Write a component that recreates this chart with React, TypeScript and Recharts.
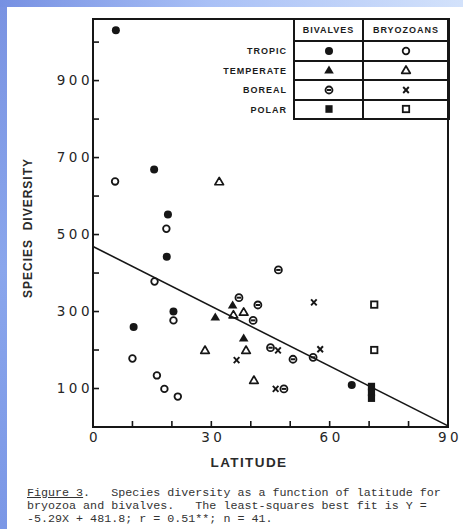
import React from 'react'
import { ScatterChart, Scatter, XAxis, YAxis, ReferenceLine, ReferenceArea } from 'recharts'

type Pt = { lat: number; div: number }
type Kind = 'fillCircle' | 'openCircle' | 'fillTri' | 'openTri' | 'boreal' | 'cross' | 'fillSquare' | 'openSquare'

// values (latitude, species diversity)
const tropicBivalves: Pt[] = [
  { lat: 5.8, div: 1031 }, { lat: 15.5, div: 669 }, { lat: 19, div: 552 }, { lat: 18.7, div: 442 },
  { lat: 20.4, div: 300 }, { lat: 10.3, div: 260 }, { lat: 65.6, div: 109 },
]
const tropicBryozoans: Pt[] = [
  { lat: 5.6, div: 638 }, { lat: 18.6, div: 515 }, { lat: 15.6, div: 378 }, { lat: 20.4, div: 277 },
  { lat: 10, div: 178 }, { lat: 16.2, div: 134 }, { lat: 18.1, div: 99 }, { lat: 21.5, div: 79 },
]
const temperateBivalves: Pt[] = [
  { lat: 35.4, div: 317 }, { lat: 31, div: 286 }, { lat: 38.2, div: 231 },
]
const temperateBryozoans: Pt[] = [
  { lat: 32, div: 638 }, { lat: 35.6, div: 292 }, { lat: 38.2, div: 299 }, { lat: 28.4, div: 200 },
  { lat: 38.8, div: 200 }, { lat: 40.8, div: 122 },
]
const borealBivalves: Pt[] = [
  { lat: 47, div: 408 }, { lat: 37, div: 336 }, { lat: 41.8, div: 317 }, { lat: 40.6, div: 277 },
  { lat: 45, div: 206 }, { lat: 50.7, div: 176 }, { lat: 55.8, div: 181 }, { lat: 48.4, div: 99 },
]
const borealBryozoans: Pt[] = [
  { lat: 56, div: 324 }, { lat: 46.9, div: 199 }, { lat: 57.6, div: 202 }, { lat: 36.4, div: 174 },
  { lat: 46.3, div: 99 },
]
const polarBivalves: Pt[] = [
  { lat: 70.6, div: 105 }, { lat: 70.6, div: 90 }, { lat: 70.6, div: 75 },
]
const polarBryozoans: Pt[] = [
  { lat: 71.3, div: 318 }, { lat: 71.3, div: 200 },
]

// least-squares line as drawn in the figure
const fitLine = [{ lat: 0, div: 469 }, { lat: 90, div: 3 }]

const xTicks = [0, 10, 20, 30, 40, 50, 60, 70, 80, 90]
const yTicks = [100, 200, 300, 400, 500, 600, 700, 800, 900, 1000]

const zones = ['TROPIC', 'TEMPERATE', 'BOREAL', 'POLAR']
const groups = ['BIVALVES', 'BRYOZOANS']
const legendKinds: Kind[][] = [
  ['fillCircle', 'openCircle'],
  ['fillTri', 'openTri'],
  ['boreal', 'cross'],
  ['fillSquare', 'openSquare'],
]

const INK = '#161616'

function Marker({ kind, cx, cy }: { kind: Kind; cx: number; cy: number }) {
  switch (kind) {
    case 'fillCircle':
      return <circle cx={cx} cy={cy} r={4} fill={INK} />
    case 'openCircle':
      return <circle cx={cx} cy={cy} r={3.3} fill="none" stroke={INK} strokeWidth={1.8} />
    case 'fillTri':
      return <path d={`M${cx},${cy - 4.5}L${cx + 4.8},${cy + 3.5}L${cx - 4.8},${cy + 3.5}Z`} fill={INK} />
    case 'openTri':
      return <path d={`M${cx},${cy - 4}L${cx + 4.3},${cy + 3.3}L${cx - 4.3},${cy + 3.3}Z`} fill="none" stroke={INK} strokeWidth={1.7} strokeLinejoin="round" />
    case 'boreal':
      return (
        <g>
          <circle cx={cx} cy={cy} r={3.5} fill="none" stroke={INK} strokeWidth={1.8} />
          <line x1={cx - 2.2} x2={cx + 2.2} y1={cy} y2={cy} stroke={INK} strokeWidth={2} />
        </g>
      )
    case 'cross':
      return (
        <g stroke={INK} strokeWidth={1.9}>
          <line x1={cx - 2.8} y1={cy - 3} x2={cx + 2.8} y2={cy + 3} />
          <line x1={cx + 2.8} y1={cy - 3} x2={cx - 2.8} y2={cy + 3} />
        </g>
      )
    case 'fillSquare':
      return <rect x={cx - 3.6} y={cy - 3.8} width={7.2} height={7.6} fill={INK} />
    case 'openSquare':
      return <rect x={cx - 3.2} y={cy - 3.2} width={6.4} height={6.4} fill="none" stroke={INK} strokeWidth={1.8} />
  }
  return null
}

const shapeOf = (kind: Kind) => (p: any) => <Marker kind={kind} cx={p.cx} cy={p.cy} />

// ticks point inward, only odd hundreds carry a label
function YTick({ x, y, payload }: any) {
  const axisX = x + 2
  return (
    <g>
      <line x1={axisX} x2={axisX + 6} y1={y} y2={y} stroke={INK} strokeWidth={1.6} />
      {payload.value % 200 !== 0 && (
        <text x={axisX} y={y} dy="0.36em" textAnchor="end" fill="#262626" fontSize={13.5}
          fontFamily="DejaVu Sans" letterSpacing={3.5}>
          {payload.value}
        </text>
      )}
    </g>
  )
}

function XTick({ x, y, payload }: any) {
  const axisY = y - 2
  return (
    <g>
      <line x1={x} x2={x} y1={axisY} y2={axisY - 6} stroke={INK} strokeWidth={1.6} />
      {payload.value % 30 === 0 && (
        <text x={x + 2} y={axisY + 5} dy="0.72em" textAnchor="middle" fill="#262626" fontSize={13.5}
          fontFamily="DejaVu Sans" letterSpacing={3.5}>
          {payload.value}
        </text>
      )}
    </g>
  )
}

const series: [Pt[], Kind][] = [
  [tropicBivalves, 'fillCircle'],
  [tropicBryozoans, 'openCircle'],
  [temperateBivalves, 'fillTri'],
  [temperateBryozoans, 'openTri'],
  [borealBivalves, 'boreal'],
  [borealBryozoans, 'cross'],
  [polarBivalves, 'fillSquare'],
  [polarBryozoans, 'openSquare'],
]

const cellBorder = `2px solid ${INK}`
const smallCaps: React.CSSProperties = {
  fontFamily: 'Liberation Sans', fontWeight: 700, fontSize: 9, letterSpacing: 1, color: '#1c1c1c',
}

function LegendTable() {
  return (
    <div style={{ position: 'absolute', left: 200, top: 18, width: 249 }}>
      <table style={{ borderCollapse: 'collapse', width: '100%', tableLayout: 'fixed' }}>
        <colgroup>
          <col style={{ width: 94 }} />
          <col style={{ width: 69 }} />
          <col style={{ width: 86 }} />
        </colgroup>
        <tbody>
          <tr style={{ height: 22 }}>
            <td />
            {groups.map((g) => (
              <td key={g} style={{ ...smallCaps, border: cellBorder, textAlign: 'center', padding: 0 }}>{g}</td>
            ))}
          </tr>
          {zones.map((z, i) => (
            <tr key={z} style={{ height: 19.5 }}>
              <td style={{ ...smallCaps, textAlign: 'right', paddingRight: 6, paddingTop: 2 }}>{z}</td>
              {legendKinds[i].map((k) => (
                <td key={k} style={{ border: cellBorder, padding: 0, textAlign: 'center', lineHeight: 0 }}>
                  <svg width={14} height={14} style={{ display: 'inline-block' }}>
                    <Marker kind={k} cx={7} cy={7} />
                  </svg>
                </td>
              ))}
            </tr>
          ))}
        </tbody>
      </table>
    </div>
  )
}

export default function App() {
  return (
    <div style={{
      position: 'fixed', left: 0, top: 0, width: 463, height: 529, overflow: 'hidden',
      background: 'linear-gradient(90deg, #7690e2 0%, #a9c0f6 45%, #d3e2fb 100%)',
    }}>
      <div style={{
        position: 'absolute', left: 0, top: 7, width: 7, height: 522,
        background: 'linear-gradient(180deg, #7a93e2 0%, #8aa6ec 50%, #7b97e6 100%)',
      }} />
      <div style={{ position: 'absolute', left: 7, top: 7, right: 0, bottom: 0, background: '#fff' }} />

      <div style={{ position: 'absolute', left: 0, top: 0 }}>
        <ScatterChart width={463} height={529} margin={{ top: 19, right: 15, bottom: 72, left: 53 }}>
          <XAxis type="number" dataKey="lat" domain={[0, 90]} ticks={xTicks} height={30}
            axisLine={{ stroke: INK, strokeWidth: 2 }} tickLine={false}
            tickSize={0} tickMargin={2} tick={<XTick />} interval={0} />
          <YAxis type="number" dataKey="div" domain={[0, 1060]} ticks={yTicks} width={40}
            axisLine={{ stroke: INK, strokeWidth: 2 }} tickLine={false}
            tickSize={0} tickMargin={2} tick={<YTick />} interval={0} />
          <ReferenceArea x1={0} x2={90} y1={0} y2={1060} fill="none" fillOpacity={0}
            stroke={INK} strokeWidth={2} />
          <ReferenceLine segment={[{ x: fitLine[0].lat, y: fitLine[0].div }, { x: fitLine[1].lat, y: fitLine[1].div }]}
            stroke={INK} strokeWidth={1.6} />
          {series.map(([data, kind]) => (
            <Scatter key={kind} data={data} shape={shapeOf(kind)} isAnimationActive={false} />
          ))}
        </ScatterChart>
      </div>

      <LegendTable />

      <div style={{
        position: 'absolute', left: 28, top: 228, transform: 'translate(-50%, -50%) rotate(-90deg)',
        fontFamily: 'Liberation Sans', fontWeight: 700, fontSize: 12, letterSpacing: 1,
        color: '#2a2a2a', whiteSpace: 'pre',
      }}>SPECIES  DIVERSITY</div>

      <div style={{
        position: 'absolute', left: 249, top: 462, transform: 'translate(-50%, -50%)',
        fontFamily: 'Liberation Sans', fontWeight: 700, fontSize: 13.5, letterSpacing: 1.4,
        color: '#2a2a2a', whiteSpace: 'pre',
      }}>LATITUDE</div>

      <div style={{
        position: 'absolute', left: 27, top: 487, fontFamily: 'Liberation Mono', fontSize: 11.7,
        lineHeight: '13px', color: '#333', whiteSpace: 'pre',
      }}>
        <span style={{ textDecoration: 'underline' }}>Figure 3</span>{'.   Species diversity as a function of latitude for\n'}
        {'bryozoa and bivalves.   The least-squares best fit is Y =\n'}
        {'-5.29X + 481.8; r = 0.51**; n = 41.'}
      </div>
    </div>
  )
}
